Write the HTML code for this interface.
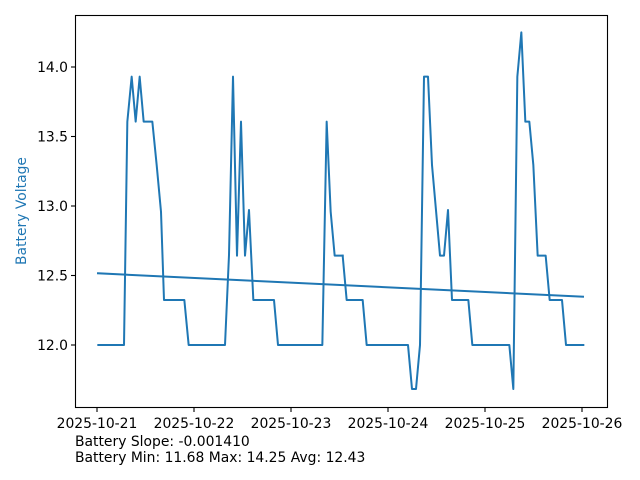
<!DOCTYPE html>
<html><head><meta charset="utf-8"><style>
html,body{margin:0;padding:0;background:#fff;}
svg{display:block;font-family:"DejaVu Sans","Liberation Sans",sans-serif;}
</style></head><body>
<svg width="640" height="480" viewBox="0 0 640 480" xmlns="http://www.w3.org/2000/svg">
<rect width="640" height="480" fill="#fff"/>
<g fill="none" stroke="#1f77b4" stroke-linejoin="round" stroke-linecap="square">
<g transform="translate(75,15) scale(0.3333333)">
<polyline stroke-width="6" points="70,990 147,990 157,320 170,185 182,320 194,185 206,320 232,320 245,450 258,590 267,855 328,855 341,990 450,990 462,720 474,185 486,722 498,320 510,722 522,585 535,855 597,855 609,990 742,990 755,320 767,590 779,722 803,722"/>
</g>
<g transform="translate(340,15) scale(0.3333333)">
<polyline stroke-width="6" points="8,722 20,855 68,855 80,990 204,990 216,1122 228,1122 240,990 252,185 264,185 276,450 300,722 312,722 324,585 336,855 385,855 397,990 508,990 520,1122 532,185 544,52 556,320 568,320 580,450 593,722 617,722 629,855 666,855 678,990 730,990"/>
</g>
<line x1="98" y1="273.3" x2="583" y2="296.7" stroke-width="2"/>
</g>
<rect x="75.5" y="15.5" width="532" height="392" fill="none" stroke="#000" stroke-width="1.1"/>
<g stroke="#000" stroke-width="1.1">
<line x1="97" y1="408" x2="97" y2="412"/>
<line x1="194" y1="408" x2="194" y2="412"/>
<line x1="291" y1="408" x2="291" y2="412"/>
<line x1="388" y1="408" x2="388" y2="412"/>
<line x1="485" y1="408" x2="485" y2="412"/>
<line x1="582" y1="408" x2="582" y2="412"/>
<line x1="71" y1="67" x2="75" y2="67"/>
<line x1="71" y1="136.5" x2="75" y2="136.5"/>
<line x1="71" y1="206" x2="75" y2="206"/>
<line x1="71" y1="275.5" x2="75" y2="275.5"/>
<line x1="71" y1="345" x2="75" y2="345"/>
</g>
<g font-size="13.9" fill="#000" text-anchor="middle">
<text x="97" y="428">2025-10-21</text>
<text x="194" y="428">2025-10-22</text>
<text x="291" y="428">2025-10-23</text>
<text x="388" y="428">2025-10-24</text>
<text x="485" y="428">2025-10-25</text>
<text x="582" y="428">2025-10-26</text>
</g>
<g font-size="13.9" fill="#000" text-anchor="end">
<text x="68" y="72">14.0</text>
<text x="68" y="141.5">13.5</text>
<text x="68" y="211">13.0</text>
<text x="68" y="280.5">12.5</text>
<text x="68" y="350">12.0</text>
</g>
<text transform="translate(26,211) rotate(-90)" font-size="13.9" fill="#1f77b4" text-anchor="middle">Battery Voltage</text>
<text x="75" y="446" font-size="13.9" fill="#000">Battery Slope: -0.001410</text>
<text x="75" y="462" font-size="13.9" fill="#000">Battery Min: 11.68 Max: 14.25 Avg: 12.43</text>
</svg>
</body></html>
